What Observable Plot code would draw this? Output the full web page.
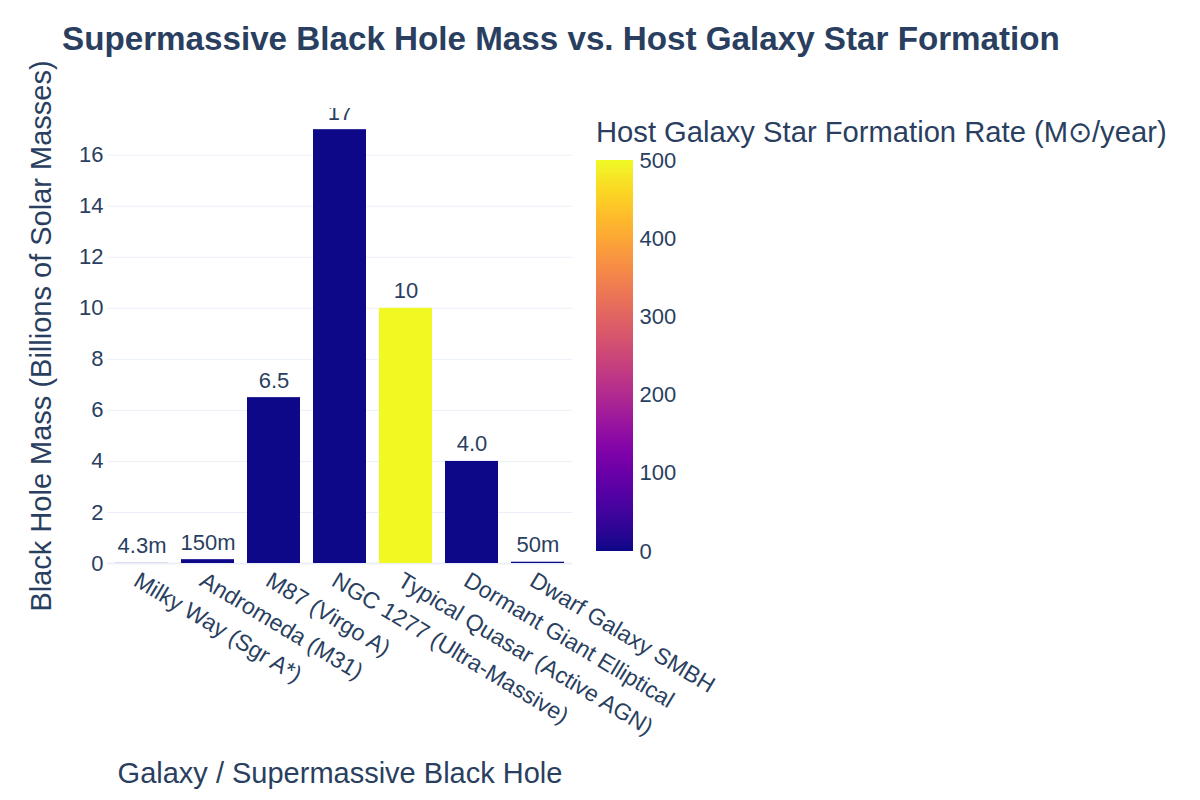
<!DOCTYPE html>
<html>
<head>
<meta charset="utf-8">
<script src="https://cdn.jsdelivr.net/npm/d3@7"></script>
<script src="https://cdn.jsdelivr.net/npm/@observablehq/plot@0.6"></script>
<style>
  body { margin: 0; background: #fff; }
  #wrap { position: relative; width: 1200px; height: 800px; font-family: "Liberation Sans", Arial, sans-serif; color: #2a3f5f; overflow: hidden; }
  #wrap svg { position: absolute; top: 0; }
  .title { position: absolute; left: 62px; top: 20px; font-size: 33.2px; font-weight: bold; white-space: nowrap; }
  .ytitle { position: absolute; left: 41px; top: 336px; font-size: 29px; white-space: nowrap; transform: translate(-50%, -50%) rotate(-90deg); }
  .xtitle { position: absolute; left: 340px; top: 773px; font-size: 29px; white-space: nowrap; transform: translate(-50%, -50%); }
  .ctitle { position: absolute; left: 596px; top: 115px; font-size: 29.2px; white-space: nowrap; }
</style>
</head>
<body>
<div id="wrap">
  <div class="title">Supermassive Black Hole Mass vs. Host Galaxy Star Formation</div>
  <div class="ytitle">Black Hole Mass (Billions of Solar Masses)</div>
  <div class="xtitle">Galaxy / Supermassive Black Hole</div>
  <div class="ctitle">Host Galaxy Star Formation Rate (M⊙/year)</div>
</div>
<script>
// Data
const galaxies = [
  "Milky Way (Sgr A*)",
  "Andromeda (M31)",
  "M87 (Virgo A)",
  "NGC 1277 (Ultra-Massive)",
  "Typical Quasar (Active AGN)",
  "Dormant Giant Elliptical",
  "Dwarf Galaxy SMBH"
];
const massBillions = [0.0043, 0.15, 6.5, 17, 10, 4.0, 0.05];
const starFormationRate = [1.5, 0.5, 0.05, 0.1, 500, 0.05, 0.1];
const yTicks = [0, 2, 4, 6, 8, 10, 12, 14, 16];
const colorTicks = [0, 100, 200, 300, 400, 500];
const colorRange = [0, 500];

const rows = galaxies.map((g, i) => ({galaxy: g, mass: massBillions[i], sfr: starFormationRate[i]}));
const fmt = d3.format(".2s");
const ink = "#2a3f5f";
const fontFamily = '"Liberation Sans", Arial, sans-serif';

const main = Plot.plot({
  width: 590,
  height: 800,
  marginLeft: 107,
  marginRight: 18,
  marginTop: 108,
  marginBottom: 237,
  style: {fontFamily, color: ink, background: "transparent", overflow: "visible"},
  x: {domain: galaxies, paddingInner: 0.2, paddingOuter: 0.1, label: null},
  y: {domain: [0, 17.83], label: null},
  color: {type: "linear", scheme: "plasma", domain: colorRange},
  marks: [
    Plot.ruleY(yTicks.filter(d => d > 0), {stroke: "#ebf0f8", strokeWidth: 1}),
    Plot.ruleY([0], {stroke: "#ebf0f8", strokeWidth: 2}),
    Plot.barY(rows, {x: "galaxy", y: "mass", fill: "sfr"}),
    Plot.text(rows, {x: "galaxy", y: "mass", text: d => fmt(d.mass), lineAnchor: "bottom", dy: -10, fontSize: 22, fill: ink, clip: true}),
    Plot.axisY({ticks: yTicks, tickSize: 0, tickPadding: 4, fontSize: 22, label: null, color: ink}),
    Plot.axisX({tickSize: 0, tickPadding: 15, dx: -6, tickRotate: 31, fontSize: 23, label: null, color: ink})
  ]
});
main.style.left = "0px";
document.getElementById("wrap").appendChild(main);

// Colorbar
const steps = d3.range(colorRange[0], colorRange[1], 1);
const bar = Plot.plot({
  width: 117,
  height: 600,
  marginLeft: 0,
  marginRight: 80,
  marginTop: 160,
  marginBottom: 49,
  style: {fontFamily, color: ink, background: "transparent", overflow: "visible"},
  x: {domain: [0, 1], axis: null},
  y: {domain: colorRange, label: null},
  color: {type: "linear", scheme: "plasma", domain: colorRange},
  marks: [
    Plot.rect(steps, {x1: 0, x2: 1, y1: d => d, y2: d => Math.min(d + 2, colorRange[1]), fill: d => d + 0.5, shapeRendering: "crispEdges"}),
    Plot.axisY({anchor: "right", ticks: colorTicks, tickSize: 0, tickPadding: 6, fontSize: 22, label: null, color: ink})
  ]
});
bar.style.left = "596px";
document.getElementById("wrap").appendChild(bar);
</script>
</body>
</html>
